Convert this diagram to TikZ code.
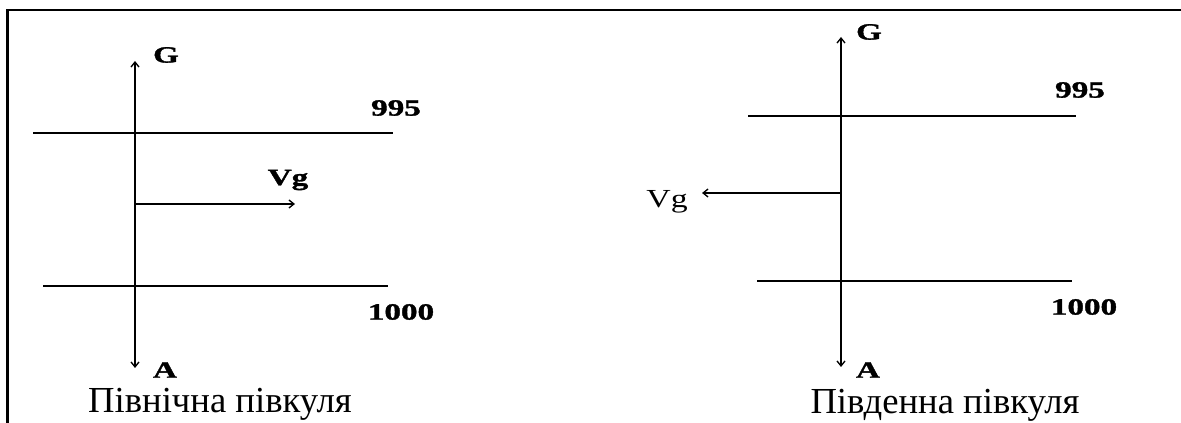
\documentclass[tikz,border=0pt]{standalone}
\usepackage{fontspec}
\setmainfont{Liberation Serif}
\newfontfamily\lblfont{Liberation Serif}[BoldFeatures={FakeBold=1.2}]
\usetikzlibrary{arrows.meta}
\tikzset{
  axisline/.style={line width=1.9pt, {Straight Barb[length=3.75pt,width=6pt,line width=1pt]}-{Straight Barb[length=3.75pt,width=6pt,line width=1pt]}},
  lvl/.style={line width=1.5pt},
  vgarrow/.style={line width=1.1pt, -{Straight Barb[length=3.75pt,width=6pt,line width=1pt]}},
  frameline/.style={line width=2pt},
  boldlbl/.style={inner sep=0pt, font=\fontsize{17.5}{18}\selectfont\lblfont\bfseries},
  caption/.style={inner sep=0pt, anchor=base, font=\fontsize{27.5}{30}\selectfont},
  vglbl/.style={inner sep=0pt, anchor=base, font=\fontsize{19.5}{20}\selectfont},
}
\newcommand{\wide}[1]{\scalebox{1.42}[1]{#1}}
\begin{document}
\begin{tikzpicture}[x=0.75pt,y=-0.75pt]
\useasboundingbox (0,0) rectangle (1181,423);
% frame
\coordinate (fl) at (7.5,423);
\coordinate (fc) at (7.5,10);
\coordinate (fr) at (1181,10);
\draw[frameline] (fl) -- (fc) -- (fr);

% ---------- left panel ----------
\coordinate (LG) at (135,61);
\coordinate (LA) at (135,368);
\draw[axisline] (LA) -- (LG);
\coordinate (L995a) at (33,133);
\coordinate (L995b) at (393,133);
\draw[lvl] (L995a) -- (L995b);
\coordinate (L1000a) at (43,286);
\coordinate (L1000b) at (388,286);
\draw[lvl] (L1000a) -- (L1000b);
\coordinate (LVs) at (135,204);
\coordinate (LVe) at (295,204);
\draw[vgarrow] (LVs) -- (LVe);
\node[boldlbl] (lg) at (166,55) {\wide{G}};
\node[boldlbl] (l995) at (396,108) {\wide{995}};
\node[boldlbl] (lvg) at (288,180) {\wide{Vg}};
\node[boldlbl] (l1000) at (401,312) {\wide{1000}};
\node[boldlbl] (la) at (165,370) {\wide{A}};
\node[caption] (lcap) at (220,413) {Північна півкуля};

% ---------- right panel ----------
\coordinate (RG) at (841,37);
\coordinate (RA) at (841,367);
\draw[axisline] (RA) -- (RG);
\coordinate (R995a) at (748,116);
\coordinate (R995b) at (1076,116);
\draw[lvl] (R995a) -- (R995b);
\coordinate (R1000a) at (757,281);
\coordinate (R1000b) at (1072,281);
\draw[lvl] (R1000a) -- (R1000b);
\coordinate (RVs) at (841,193);
\coordinate (RVe) at (702,193);
\draw[vgarrow,line width=1.5pt] (RVs) -- (RVe);
\node[boldlbl] (rg) at (869,32) {\wide{G}};
\node[boldlbl] (r995) at (1080,90) {\wide{995}};
\node[vglbl] (rvg) at (667,208) {\scalebox{1.3}[1]{Vg}};
\node[boldlbl] (r1000) at (1084,307) {\wide{1000}};
\node[boldlbl] (ra) at (868,370) {\wide{A}};
\node[caption] (rcap) at (945,414) {Південна півкуля};
\end{tikzpicture}
\end{document}
